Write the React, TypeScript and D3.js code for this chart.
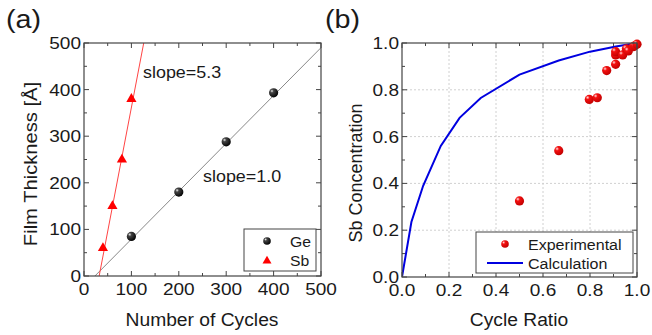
import React from 'react'
import * as d3 from 'd3'

// panel (a) data
const geCycles = [100, 200, 300, 400]
const geThickness = [85, 180, 288, 393]
const sbCycles = [40, 60, 80, 100]
const sbThickness = [62, 152, 252, 382]
const geFit = [[23, 0], [500, 490]]
const sbFit = [[32, 0], [126, 500]]
const aTicks = [0, 100, 200, 300, 400, 500]

// panel (b) data
const expRatio = [0.5, 0.667, 0.797, 0.831, 0.871, 0.909, 0.909, 0.909, 0.939, 0.955, 0.963, 0.984, 0.99, 1.0]
const expConc = [0.325, 0.54, 0.759, 0.766, 0.882, 0.909, 0.949, 0.963, 0.949, 0.975, 0.966, 0.984, 0.988, 0.995]
const calcRatio = [0, 0.04, 0.09, 0.165, 0.245, 0.335, 0.5, 0.667, 0.8, 0.91, 1]
const calcConc = [0, 0.235, 0.39, 0.56, 0.68, 0.765, 0.865, 0.925, 0.963, 0.985, 1]
const bTicks = [0, 0.2, 0.4, 0.6, 0.8, 1.0]

const font = 'Liberation Sans, Arial, sans-serif'
const frame = '#444'
const txt = '#1a1a1a'

// text stretched horizontally a little, like the scanned figure
function T({ x, y, size, sx = 1.12, anchor = 'start', rot = 0, children }: any) {
  return (
    <text transform={`translate(${x},${y}) rotate(${rot}) scale(${sx},1)`} textAnchor={anchor}
      fontSize={size} fill={txt} fontFamily={font}>{children}</text>
  )
}

function Ticks({ x, y, major, minor, fmt }: any) {
  const [x0, x1] = x.range()
  const [y0, y1] = y.range()
  const out: any[] = []
  const add = (v: number, len: number, k: string) => {
    const px = x(v), py = y(v)
    out.push(<line key={'b' + k} x1={px} x2={px} y1={y0} y2={y0 - len} stroke={frame} />)
    out.push(<line key={'t' + k} x1={px} x2={px} y1={y1} y2={y1 + len} stroke={frame} />)
    out.push(<line key={'l' + k} x1={x0} x2={x0 + len} y1={py} y2={py} stroke={frame} />)
    out.push(<line key={'r' + k} x1={x1} x2={x1 - len} y1={py} y2={py} stroke={frame} />)
  }
  major.forEach((v: number, i: number) => add(v, 5, 'M' + i))
  minor.forEach((v: number, i: number) => add(v, 3, 'm' + i))
  return (
    <g>
      {out}
      {major.map((v: number, i: number) => (
        <T key={'xl' + i} x={x(v)} y={y0 + 19} size={17} anchor="middle">{fmt(v)}</T>
      ))}
      {major.map((v: number, i: number) => (
        <T key={'yl' + i} x={x0 - 3} y={y(v) + 6} size={17} anchor="end">{fmt(v)}</T>
      ))}
    </g>
  )
}

export default function App() {
  const xa = d3.scaleLinear().domain([0, 500]).range([84, 321])
  const ya = d3.scaleLinear().domain([0, 500]).range([276, 43])
  const xb = d3.scaleLinear().domain([0, 1]).range([402, 637])
  const yb = d3.scaleLinear().domain([0, 1]).range([277, 43])

  const lineA = d3.line<number[]>().x(d => xa(d[0])).y(d => ya(d[1]))
  const calc = d3.line<number>().x(d => xb(d)).y((d, i) => yb(calcConc[i]))
  const tri = d3.symbol(d3.symbolTriangle, 45)()

  const aMinor = d3.range(50, 500, 100)
  const bMinor = d3.range(0.1, 1, 0.2)

  return (
    <svg width={652} height={335} style={{ position: 'absolute', left: 0, top: 0, background: '#fff' }}>
      <defs>
        <radialGradient id="gBall" cx="0.32" cy="0.3" r="0.75">
          <stop offset="0" stopColor="#eee" />
          <stop offset="0.25" stopColor="#444" />
          <stop offset="1" stopColor="#000" />
        </radialGradient>
        <radialGradient id="rBall" cx="0.32" cy="0.3" r="0.75">
          <stop offset="0" stopColor="#ffe0e0" />
          <stop offset="0.28" stopColor="#f41010" />
          <stop offset="1" stopColor="#c00000" />
        </radialGradient>
        <clipPath id="clipA"><rect x={84} y={43} width={237} height={233} /></clipPath>
        <clipPath id="clipB"><rect x={402} y={43} width={235} height={234} /></clipPath>
      </defs>

      {/* panel (a) */}
      <T x={6} y={28} size={25} sx={1.15}>(a)</T>
      <g clipPath="url(#clipA)">
        <path d={lineA(geFit) || ''} stroke="#888" strokeWidth={1} fill="none" />
        <path d={lineA(sbFit) || ''} stroke="#f44" strokeWidth={1} fill="none" />
      </g>
      {geCycles.map((c, i) => (
        <circle key={i} cx={xa(c)} cy={ya(geThickness[i])} r={4.6} fill="url(#gBall)" />
      ))}
      {sbCycles.map((c, i) => (
        <path key={i} d={tri || ''} transform={`translate(${xa(c)},${ya(sbThickness[i]) + 1})`} fill="#f00" />
      ))}
      <rect x={84} y={43} width={237} height={233} fill="none" stroke={frame} strokeWidth={1.2} />
      <Ticks x={xa} y={ya} major={aTicks} minor={aMinor} fmt={(v: number) => String(v)} />
      <T x={143} y={78} size={16}>slope=5.3</T>
      <T x={203} y={182} size={16}>slope=1.0</T>
      <rect x={244} y={229} width={72} height={42} fill="#fff" stroke={frame} />
      <circle cx={267} cy={241} r={3.8} fill="url(#gBall)" />
      <path d={d3.symbol(d3.symbolTriangle, 35)() || ''} transform="translate(267,261)" fill="#f00" />
      <T x={290} y={247} size={15} sx={1.05}>Ge</T>
      <T x={290} y={266} size={15} sx={1.05}>Sb</T>
      <T x={202} y={326} size={18} sx={1.07} anchor="middle">Number of Cycles</T>
      <T x={37} y={164} size={18} sx={1.12} rot={-90} anchor="middle">Film Thickness [Å]</T>

      {/* panel (b) */}
      <T x={325} y={28} size={25} sx={1.15}>(b)</T>
      <g stroke="#d0d0d0" strokeDasharray="2,2">
        {bTicks.slice(1, -1).map((v, i) => (
          <g key={i}>
            <line x1={xb(v)} x2={xb(v)} y1={yb(0)} y2={yb(1)} />
            <line x1={xb(0)} x2={xb(1)} y1={yb(v)} y2={yb(v)} />
          </g>
        ))}
      </g>
      <g clipPath="url(#clipB)">
        <path d={calc(calcRatio) || ''} stroke="#0000e0" strokeWidth={2} fill="none" />
      </g>
      {expRatio.map((r, i) => (
        <circle key={i} cx={xb(r)} cy={yb(expConc[i])} r={4.6} fill="url(#rBall)" />
      ))}
      <rect x={402} y={43} width={235} height={234} fill="none" stroke={frame} strokeWidth={1.2} />
      <Ticks x={xb} y={yb} major={bTicks} minor={bMinor} fmt={(v: number) => v.toFixed(1)} />
      <rect x={476} y={232} width={157} height={41} fill="#fff" stroke={frame} />
      <circle cx={505} cy={244} r={3.8} fill="url(#rBall)" />
      <line x1={487} x2={523} y1={263} y2={263} stroke="#0000e0" strokeWidth={2} />
      <T x={528} y={250} size={15} sx={1.07}>Experimental</T>
      <T x={528} y={269} size={15} sx={1.07}>Calculation</T>
      <T x={519} y={326} size={18} sx={1.07} anchor="middle">Cycle Ratio</T>
      <T x={362} y={173} size={18} sx={1.0} rot={-90} anchor="middle">Sb Concentration</T>
    </svg>
  )
}
